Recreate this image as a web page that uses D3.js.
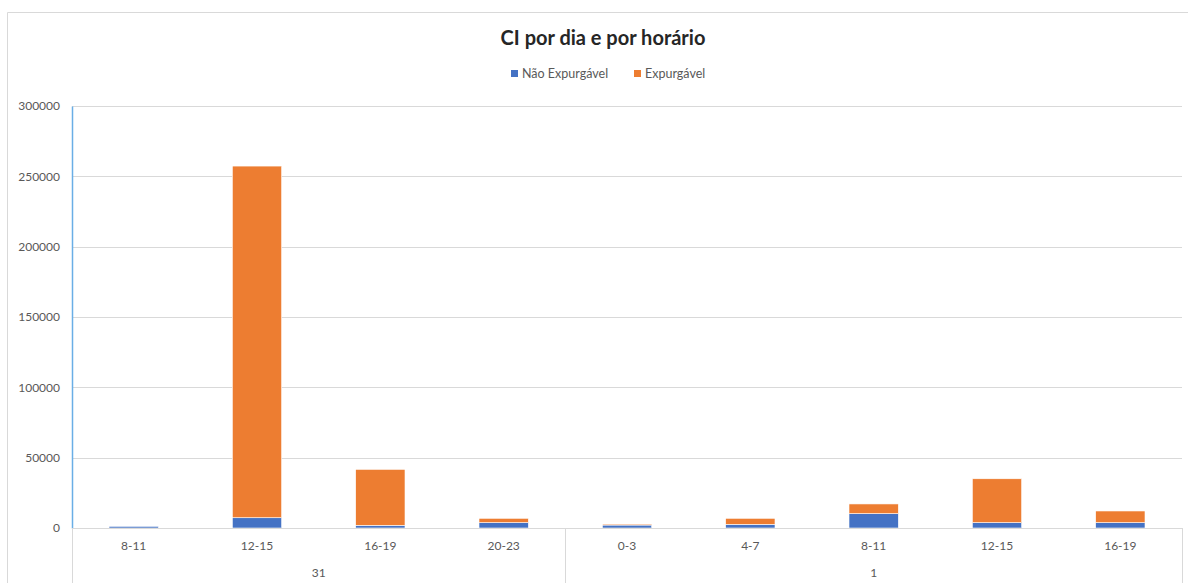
<!DOCTYPE html>
<html>
<head>
<meta charset="utf-8">
<script src="https://cdn.jsdelivr.net/npm/d3@7"></script>
<style>
body { margin:0; background:#fff; }
svg text { font-family: Lato, "Open Sans", sans-serif; }
</style>
</head>
<body>
<svg id="chart"></svg>
<script>
// horarios (category labels) and the day each belongs to
var horarios = ["8-11","12-15","16-19","20-23","0-3","4-7","8-11","12-15","16-19"];
var dias = ["31","31","31","31","1","1","1","1","1"];
var naoExpurgavel = [1200, 7300, 1900, 3800, 2100, 2600, 10200, 3800, 3800];
var expurgavel = [0, 250000, 39800, 3100, 700, 4300, 6900, 31200, 8300];
var yTicks = [0, 50000, 100000, 150000, 200000, 250000, 300000];
var seriesNames = ["Não Expurgável", "Expurgável"];
var colors = ["#4472c4", "#ed7d31"];

var screen = {width:1188, height:583};
var margins = {top:106, bottom:55, left:72, right:6};
var graph = {
    width: screen.width - margins.left - margins.right,
    height: screen.height - margins.top - margins.bottom
};

var svg = d3.select("#chart")
    .attr("width", screen.width)
    .attr("height", screen.height);

// outer chart frame
svg.append("line").attr("x1",7.5).attr("x2",7.5).attr("y1",12.5).attr("y2",screen.height)
    .attr("stroke","#d9d9d9");
svg.append("line").attr("x1",7.5).attr("x2",screen.width).attr("y1",12.5).attr("y2",12.5)
    .attr("stroke","#d9d9d9");

// title
svg.append("text")
    .attr("x", 603).attr("y", 45)
    .attr("text-anchor","middle")
    .attr("font-size", 20)
    .attr("font-weight", "bold")
    .attr("fill", "#262626")
    .text("CI por dia e por horário");

// legend
var legendX = [511, 634];
seriesNames.forEach(function(name, i) {
    svg.append("rect")
        .attr("x", legendX[i]).attr("y", 70)
        .attr("width", 7).attr("height", 7)
        .attr("fill", colors[i]);
    svg.append("text")
        .attr("x", legendX[i] + 11).attr("y", 78)
        .attr("font-size", 12.5)
        .attr("fill", "#595959")
        .text(name);
});

var idx = d3.range(horarios.length);
var xScale = d3.scaleBand()
    .domain(idx)
    .range([0, graph.width])
    .paddingInner(0.6)
    .paddingOuter(0.3);

var yScale = d3.scaleLinear()
    .domain([0, 300000])
    .range([graph.height, 0]);

var g = svg.append("g")
    .attr("transform","translate("+margins.left+","+margins.top+")");

// gridlines
g.selectAll(".grid")
    .data(yTicks.filter(function(t){ return t > 0; }))
    .enter().append("line")
    .attr("x1", 0).attr("x2", graph.width)
    .attr("y1", function(t){ return Math.round(yScale(t)) + 0.5; })
    .attr("y2", function(t){ return Math.round(yScale(t)) + 0.5; })
    .attr("stroke", "#d9d9d9");

// y axis
var yAxis = d3.axisLeft(yScale).tickValues(yTicks).tickSize(0).tickPadding(12)
    .tickFormat(d3.format("d"));
var ya = g.append("g").call(yAxis);
ya.select(".domain").attr("stroke", "#6aaee6").attr("stroke-width", 1.5);
ya.selectAll("text").attr("font-size", 12).attr("fill", "#595959")
    .attr("font-family", "Lato, 'Open Sans', sans-serif");

// stacked bars
var table = idx.map(function(i) {
    return {i:i, nao: naoExpurgavel[i], exp: expurgavel[i]};
});
var stack = d3.stack().keys(["nao","exp"])(table);

g.selectAll(".serie")
    .data(stack)
    .enter().append("g")
    .attr("fill", function(d, i){ return colors[i]; })
    .selectAll("rect")
    .data(function(d){ return d.filter(function(s){ return s[1] > s[0]; }); })
    .enter().append("rect")
    .attr("x", function(d){ return xScale(d.data.i); })
    .attr("width", xScale.bandwidth())
    .attr("y", function(d){ return yScale(d[1]); })
    .attr("height", function(d){ return yScale(d[0]) - yScale(d[1]); })
    .attr("stroke", "#fff")
    .attr("stroke-width", 0.6);

// category axis (multi-level)
var axisG = g.append("g").attr("transform","translate(0,"+graph.height+")");
axisG.append("line").attr("x1",0).attr("x2",graph.width).attr("y1",0.5).attr("y2",0.5)
    .attr("stroke","#d9d9d9");

axisG.selectAll(".hlabel")
    .data(idx)
    .enter().append("text")
    .attr("x", function(i){ return xScale(i) + xScale.bandwidth()/2; })
    .attr("y", 22)
    .attr("text-anchor","middle")
    .attr("font-size", 12)
    .attr("fill", "#595959")
    .text(function(i){ return horarios[i]; });

// group days
var groups = [];
idx.forEach(function(i) {
    if (groups.length == 0 || groups[groups.length-1].dia != dias[i]) {
        groups.push({dia: dias[i], first: i, last: i});
    } else {
        groups[groups.length-1].last = i;
    }
});
var edge = function(i) { return i * graph.width / horarios.length; };
var bounds = [0];
groups.forEach(function(gr){ bounds.push(edge(gr.last + 1)); });

axisG.selectAll(".sep")
    .data(bounds)
    .enter().append("line")
    .attr("x1", function(b){ return Math.round(b) + 0.5; })
    .attr("x2", function(b){ return Math.round(b) + 0.5; })
    .attr("y1", 0).attr("y2", margins.bottom)
    .attr("stroke", "#d9d9d9");

axisG.selectAll(".glabel")
    .data(groups)
    .enter().append("text")
    .attr("x", function(gr){ return (edge(gr.first) + edge(gr.last + 1)) / 2; })
    .attr("y", 49)
    .attr("text-anchor","middle")
    .attr("font-size", 12)
    .attr("fill", "#595959")
    .text(function(gr){ return gr.dia; });
</script>
</body>
</html>
